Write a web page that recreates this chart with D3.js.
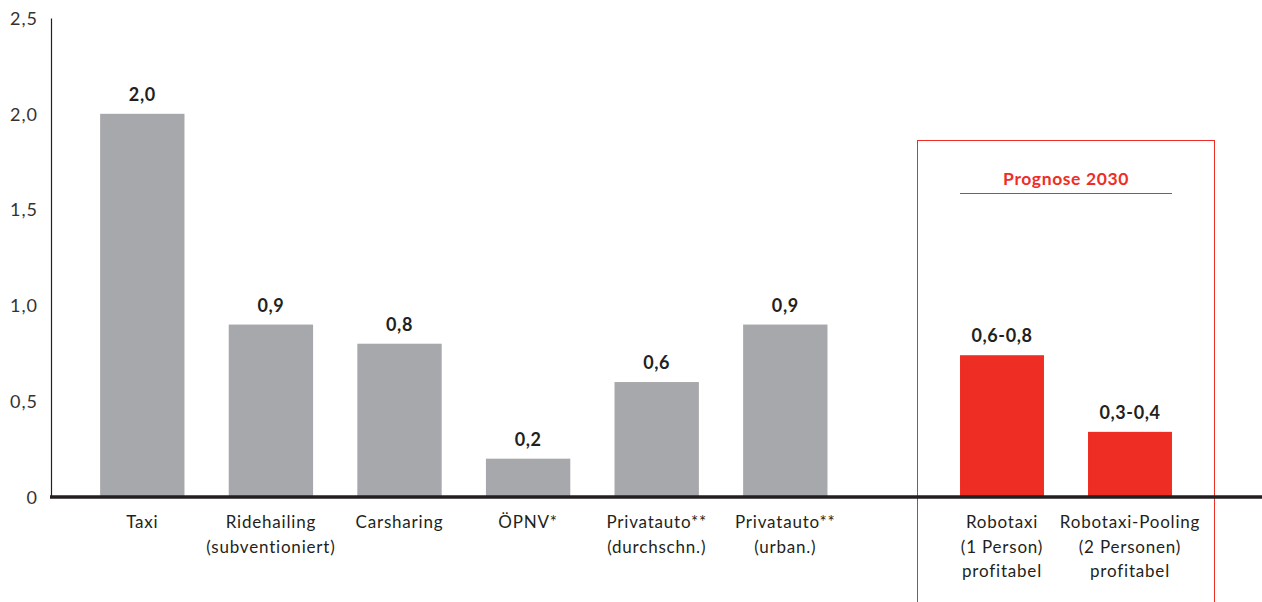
<!DOCTYPE html>
<html>
<head>
<meta charset="utf-8">
<script src="https://cdn.jsdelivr.net/npm/d3@7"></script>
<style>
  body { margin: 0; background: #fff; }
  text { font-family: Lato, "Noto Sans", sans-serif; }
</style>
</head>
<body>
<script>
const width = 1262;
const height = 602;

// current modes
const categories = ["Taxi", "Ridehailing|(subventioniert)", "Carsharing", "ÖPNV*", "Privatauto**|(durchschn.)", "Privatauto**|(urban.)"];
const values = [2.0, 0.9, 0.8, 0.2, 0.6, 0.9];
const valueLabels = ["2,0", "0,9", "0,8", "0,2", "0,6", "0,9"];

// forecast 2030
const forecastCategories = ["Robotaxi|(1 Person)|profitabel", "Robotaxi-Pooling|(2 Personen)|profitabel"];
const forecastValues = [0.74, 0.34];
const forecastLabels = ["0,6-0,8", "0,3-0,4"];
const forecastTitle = "Prognose 2030";

const yTicks = [0, 0.5, 1.0, 1.5, 2.0, 2.5];

const xLeft = 51;
const yBase = 497;

const yScale = d3.scaleLinear().domain([0, 2.5]).range([yBase, 18]);

const xScale = d3.scaleBand().domain(categories)
    .range([78, 849.6]).paddingInner(0.344).paddingOuter(0.172);
const xForecast = d3.scaleBand().domain(forecastCategories)
    .range([938, 1194]).paddingInner(0.344).paddingOuter(0.172);

const svg = d3.select('body').append('svg')
    .attr("width", width).attr("height", height);

const textColor = "#231f20";

// y axis
const yAxis = d3.axisLeft(yScale).tickValues(yTicks).tickSize(0).tickPadding(13)
    .tickFormat(d => d === 0 ? "0" : d3.format(".1f")(d).replace(".", ","));
const yG = svg.append('g').attr("transform", "translate(" + xLeft + ",0)").call(yAxis);
yG.select(".domain").attr("stroke", textColor).attr("stroke-width", 1.2);
yG.selectAll("text").attr("font-size", 18).attr("fill", "#333").attr("dy", "0.35em")
    .attr("letter-spacing", 1)
    .style("font-family", "Lato, sans-serif");

// forecast box
svg.append('rect')
    .attr("x", 917.5).attr("y", 140.5)
    .attr("width", 297).attr("height", 480)
    .attr("fill", "none").attr("stroke", "#ee2e24").attr("stroke-width", 1);

svg.append('text')
    .attr("x", (xForecast.range()[0] + xForecast.range()[1]) / 2).attr("y", 185)
    .attr("text-anchor", "middle").attr("font-size", 17.5).attr("font-weight", "bold")
    .attr("letter-spacing", 0.6)
    .attr("fill", "#ee2e24").text(forecastTitle);

svg.append('line')
    .attr("x1", xForecast(forecastCategories[0])).attr("x2", xForecast(forecastCategories[1]) + xForecast.bandwidth())
    .attr("y1", 193.5).attr("y2", 193.5)
    .attr("stroke", "#ee2e24").attr("stroke-width", 1);

function drawGroup(scale, cats, vals, labels, color) {
    const g = svg.append('g');
    g.selectAll('rect').data(cats).enter().append('rect')
        .attr("x", d => scale(d))
        .attr("y", (d, i) => yScale(vals[i]))
        .attr("width", scale.bandwidth())
        .attr("height", (d, i) => yBase - yScale(vals[i]))
        .attr("fill", color);

    g.selectAll('text.val').data(cats).enter().append('text')
        .attr("class", "val")
        .attr("x", d => scale(d) + scale.bandwidth() / 2)
        .attr("y", (d, i) => yScale(vals[i]) - 13)
        .attr("text-anchor", "middle").attr("font-size", 18).attr("font-weight", "bold")
        .attr("letter-spacing", 0.6)
        .attr("fill", textColor)
        .text((d, i) => labels[i]);

    const lab = g.selectAll('text.cat').data(cats).enter().append('text')
        .attr("class", "cat")
        .attr("x", d => scale(d) + scale.bandwidth() / 2)
        .attr("y", 528)
        .attr("text-anchor", "middle").attr("font-size", 17)
        .attr("letter-spacing", 0.8)
        .attr("fill", textColor);
    lab.each(function(d) {
        const x = scale(d) + scale.bandwidth() / 2;
        d.split("|").forEach((line, j) => {
            d3.select(this).append('tspan').attr("x", x).attr("dy", j === 0 ? 0 : 24.5).text(line);
        });
    });
}

drawGroup(xScale, categories, values, valueLabels, "#a7a8ab");
drawGroup(xForecast, forecastCategories, forecastValues, forecastLabels, "#ee2e24");

// baseline
svg.append('line')
    .attr("x1", xLeft - 1).attr("x2", width)
    .attr("y1", yBase).attr("y2", yBase)
    .attr("stroke", textColor).attr("stroke-width", 3.5);
</script>
</body>
</html>
